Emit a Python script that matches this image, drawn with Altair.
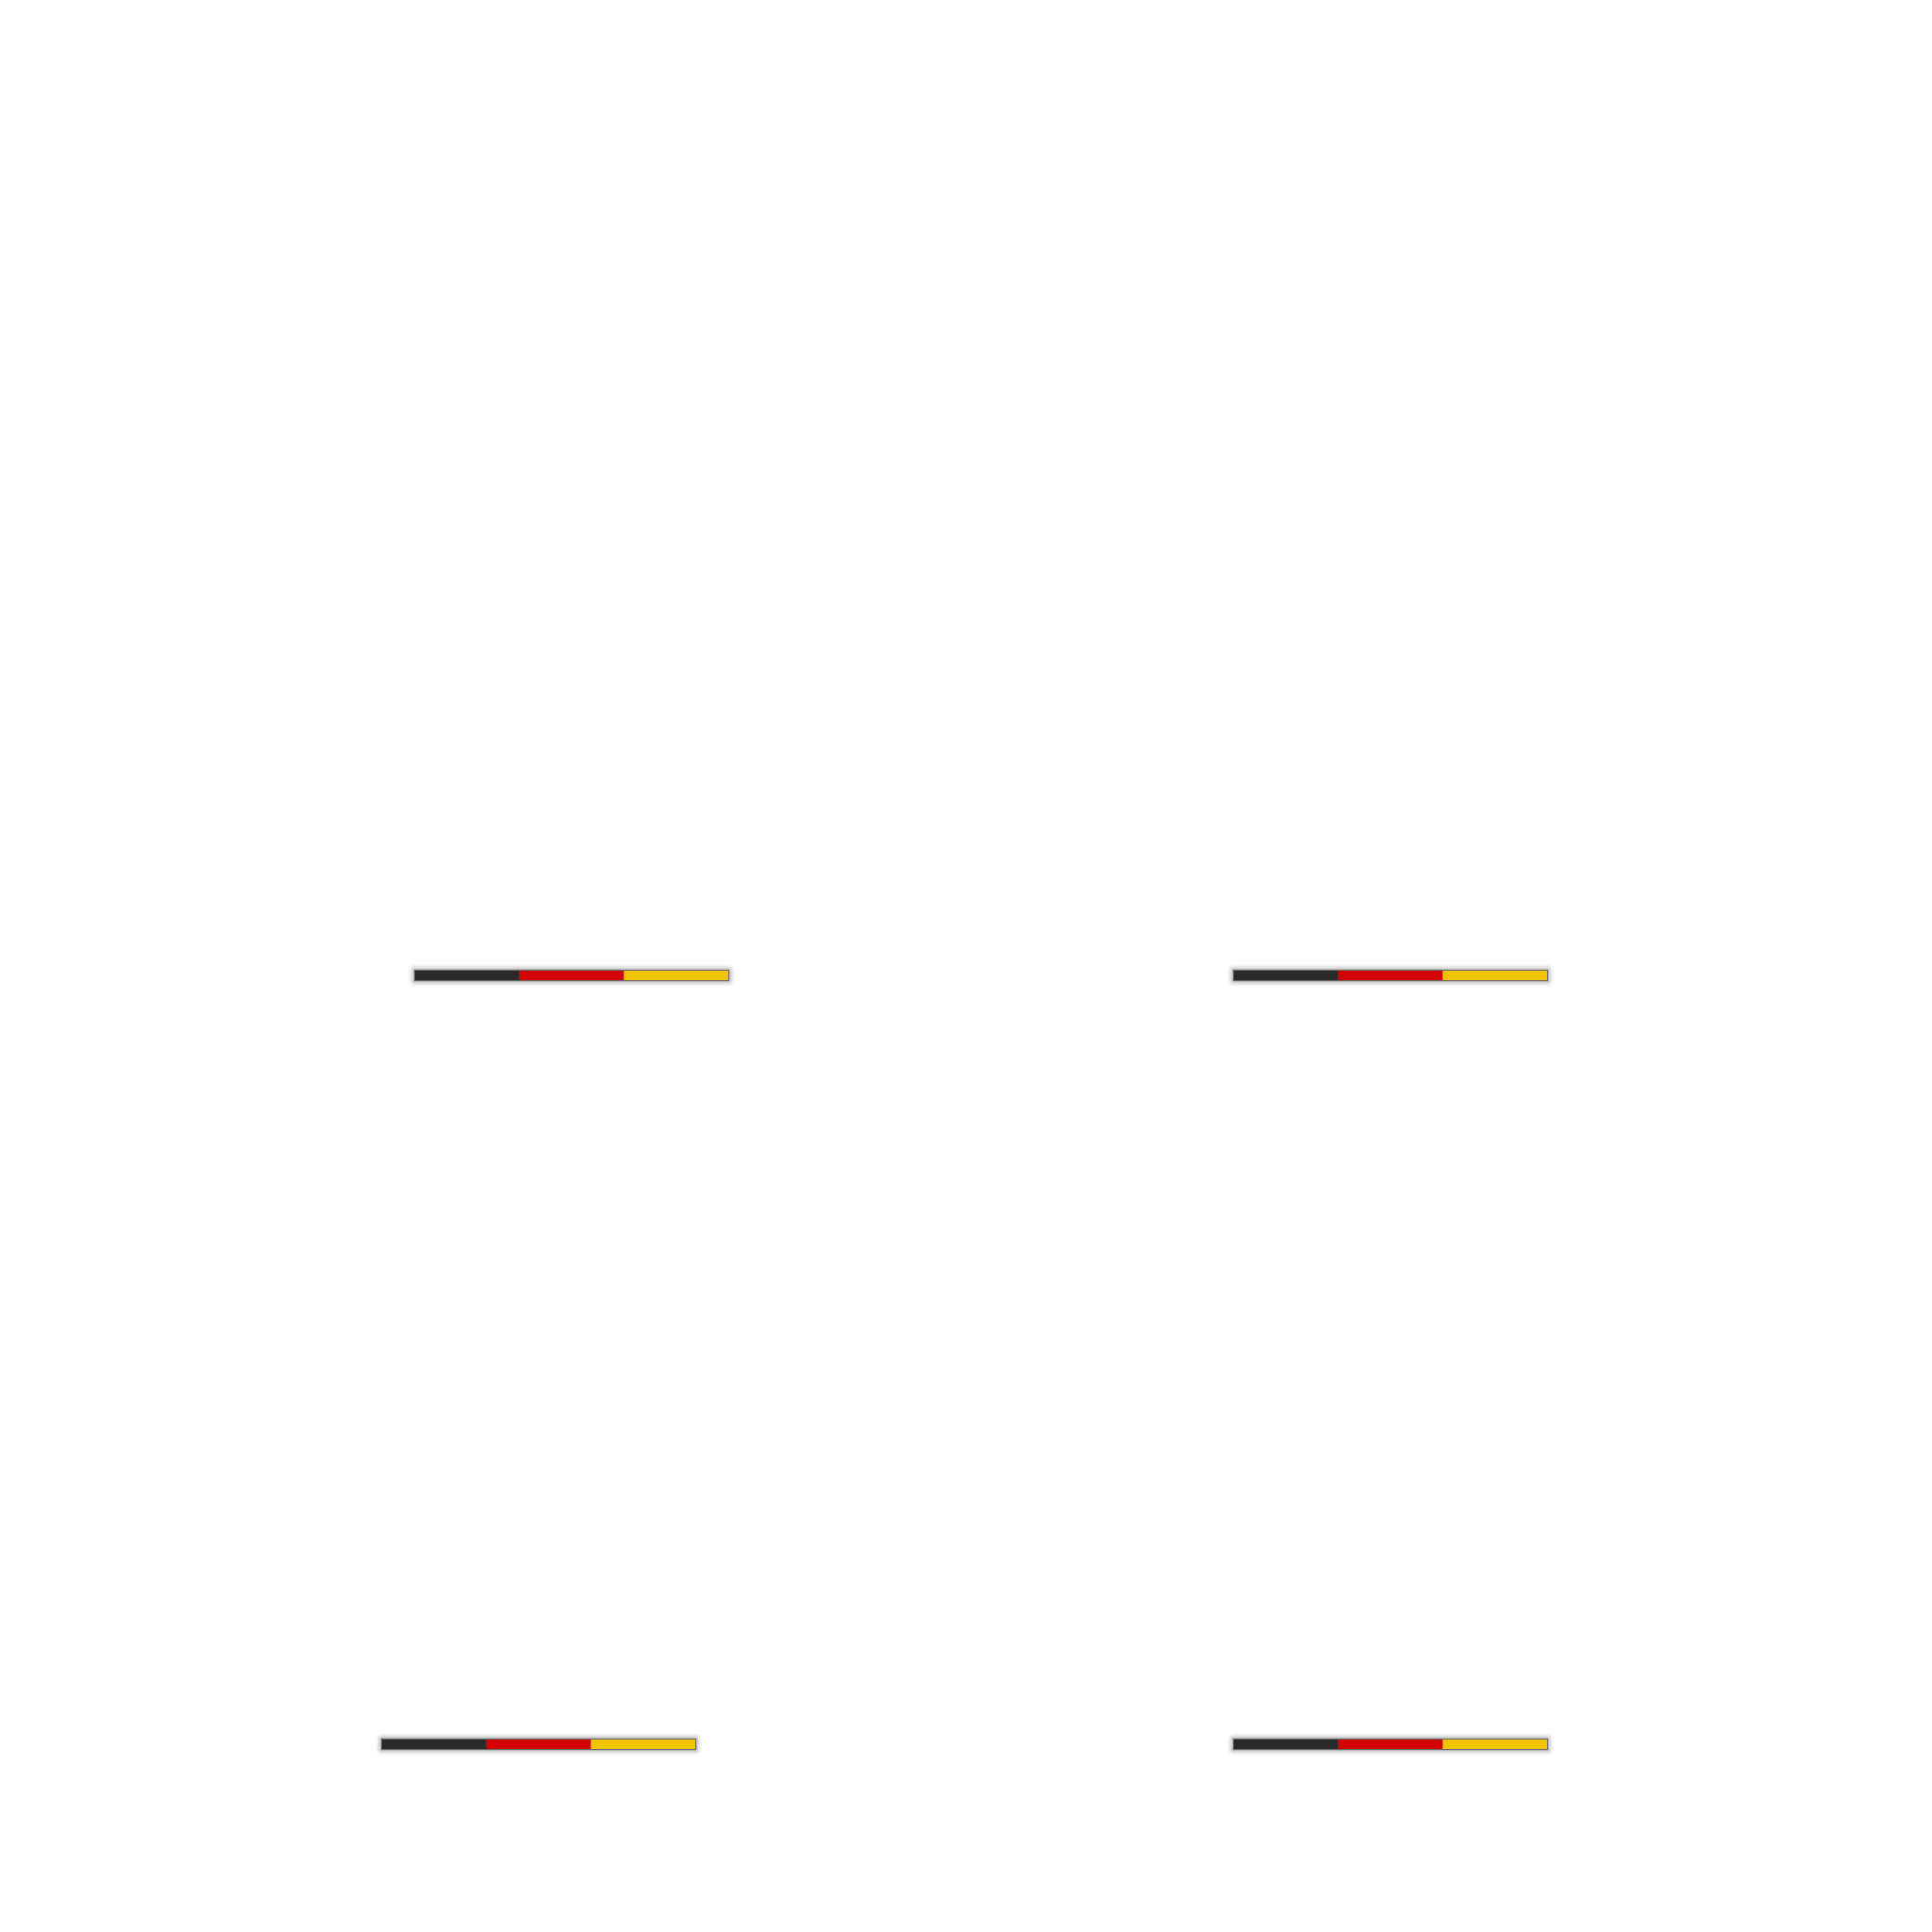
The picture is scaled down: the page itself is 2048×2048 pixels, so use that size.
import altair as alt
import pandas as pd

# --- data ---------------------------------------------------------------
flag_names = ["Flagge 1", "Flagge 2", "Flagge 3", "Flagge 4"]
flag_start = [432, 1300, 397, 1300]      # left end of each bar (x units)
flag_level = [1026, 1026, 1841, 1841]    # vertical position (y units, top = 0)
flag_length = [332, 332, 332, 332]       # total bar length (x units)
segment_names = ["Schwarz", "Rot", "Gold"]
segment_share = [1 / 3, 1 / 3, 1 / 3]
segment_colors = ["#2a2a2a", "#d20000", "#f0c400"]

rows = []
whole = []
for name, s, lvl, L in zip(flag_names, flag_start, flag_level, flag_length):
    acc = 0.0
    for seg, share in zip(segment_names, segment_share):
        rows.append({"flag": name, "segment": seg, "x": s + acc * L,
                     "x2": s + (acc + share) * L, "y": lvl})
        acc += share
    whole.append({"flag": name, "x": s, "x2": s + L, "y": lvl})

seg_df = pd.DataFrame(rows)
whole_df = pd.DataFrame(whole)

xs = alt.Scale(domain=[0, 2032], nice=False, zero=False)
ys = alt.Scale(domain=[0, 2032], nice=False, zero=False, reverse=True)

def enc(base):
    return base.encode(
        x=alt.X("x:Q", scale=xs, axis=None),
        x2="x2:Q",
        y=alt.Y("y:Q", scale=ys, axis=None),
        y2="y:Q",
    )

shadows = []
for off, op in [(7, 0.05), (5, 0.08), (3.5, 0.12), (2, 0.22)]:
    shadows.append(enc(alt.Chart(whole_df).mark_rect(
        color="#555555", opacity=op, cornerRadius=off,
        xOffset=-off, x2Offset=off, yOffset=-5 - off, y2Offset=5 + off)))

outline = enc(alt.Chart(whole_df).mark_rect(
    color="#6a6a6a", xOffset=-1, x2Offset=1, yOffset=-6, y2Offset=6))

bars = enc(alt.Chart(seg_df).mark_rect(
    yOffset=-5, y2Offset=5, strokeWidth=0)).encode(
    color=alt.Color("segment:N",
                    scale=alt.Scale(domain=segment_names, range=segment_colors),
                    legend=None)
)

chart = alt.layer(*shadows, outline, bars).properties(
    width=2032, height=2032, padding=0,
    autosize=alt.AutoSizeParams(type="none"),
    background="#ffffff",
).configure_view(stroke=None)

chart.save("out.html", embed_options={"renderer": "svg", "actions": False})
